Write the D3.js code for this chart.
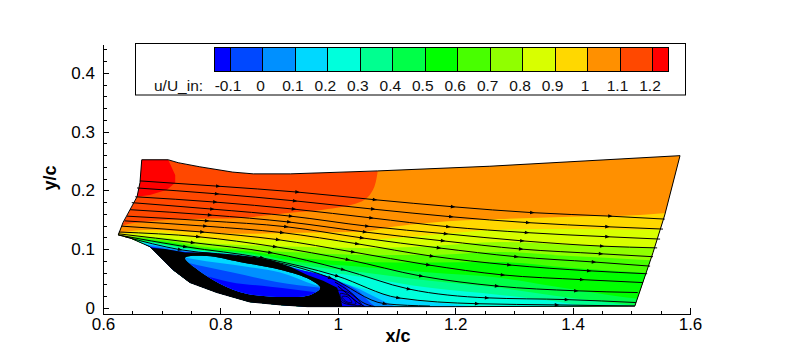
<!DOCTYPE html>
<html lang="en">
<head>
    <meta charset="UTF-8">
    <title>u/U_in contours</title>
    <script src="https://d3js.org/d3.v7.min.js"></script>
    <style>
        body { margin: 0; background: #fff; }
        svg { display: block; font-family: "Liberation Sans", Arial, sans-serif; }
        .axis path, .axis line { stroke: #000; shape-rendering: crispEdges; }
        .axis text { font-size: 17px; fill: #000; font-family: "Liberation Sans", Arial, sans-serif; }
        .title { font-size: 18px; font-weight: bold; }
        .legend-text { font-size: 15.5px; fill: #111; }
    </style>
</head>
<body>
<div id="chart"></div>
<script>
// tick values
const xTicks = [0.6, 0.8, 1, 1.2, 1.4, 1.6];
const xMinorTicks = [0.65, 0.7, 0.75, 0.85, 0.9, 0.95, 1.05, 1.1, 1.15, 1.25, 1.3, 1.35, 1.45, 1.5, 1.55];
const yTicks = [0, 0.1, 0.2, 0.3, 0.4];
const yMinorTicks = [0.02, 0.04, 0.06, 0.08, 0.12, 0.14, 0.16, 0.18, 0.22, 0.24, 0.26, 0.28, 0.32, 0.34, 0.36, 0.38, 0.42, 0.44];

// colour legend
const legendLevels = [-0.1, 0, 0.1, 0.2, 0.3, 0.4, 0.5, 0.6, 0.7, 0.8, 0.9, 1, 1.1, 1.2];
const legendEdges = [-0.15, -0.1, 0, 0.1, 0.2, 0.3, 0.4, 0.5, 0.6, 0.7, 0.8, 0.9, 1, 1.1, 1.2, 1.25];
const legendColors = ["#0000ff", "#0048ff", "#0090ff", "#00d8ff", "#00ffdc", "#00ff90", "#00ff48", "#00ff00",
    "#48ff00", "#90ff00", "#d8ff00", "#ffd800", "#ff9000", "#ff4800", "#ff0000"];

// flow domain outline
const domainOutline = [[0.666, 0.252], [0.711, 0.252], [0.728, 0.247], [0.765, 0.24], [0.821, 0.231], [0.856, 0.228],
    [0.919, 0.228], [1.068, 0.233], [1.259, 0.241], [1.583, 0.259], [1.557, 0.158], [1.537, 0.094], [1.506, 0.003],
    [1.2, 0.002], [0.948, 0.002], [0.902, 0.005], [0.85, 0.01], [0.794, 0.026], [0.748, 0.043], [0.719, 0.065],
    [0.68, 0.104], [0.646, 0.119], [0.626, 0.124], [0.634, 0.145], [0.646, 0.167], [0.658, 0.189], [0.663, 0.213]];

// region above 1.2
const redRegion = [[0.64, 0.27], [0.705, 0.27], [0.711, 0.252], [0.723, 0.226], [0.723, 0.213], [0.709, 0.201],
    [0.68, 0.192], [0.658, 0.189], [0.64, 0.187]];

// contour lines, everything below a line is under that level
const contour110 = [[0.612, 0.129], [0.637, 0.141], [0.668, 0.146], [0.748, 0.151], [0.833, 0.153], [0.919, 0.162],
    [0.975, 0.167], [1.038, 0.18], [1.06, 0.201], [1.068, 0.233], [1.072, 0.269], [1.7, 0.27]];
const contour100 = [[0.612, 0.122], [0.629, 0.128], [0.683, 0.133], [0.757, 0.129], [0.833, 0.126], [0.965, 0.128],
    [1.038, 0.129], [1.094, 0.138], [1.157, 0.145], [1.276, 0.151], [1.396, 0.155], [1.515, 0.158], [1.617, 0.167]];
const contour090 = [[0.612, 0.121], [0.637, 0.126], [0.697, 0.128], [0.765, 0.119], [0.833, 0.116], [0.936, 0.116],
    [1.038, 0.116], [1.157, 0.124], [1.276, 0.133], [1.396, 0.134], [1.515, 0.133], [1.617, 0.135]];
const contour080 = [[0.612, 0.119], [0.637, 0.122], [0.706, 0.119], [0.765, 0.111], [0.833, 0.107], [0.936, 0.104],
    [1.038, 0.102], [1.157, 0.105], [1.276, 0.112], [1.396, 0.107], [1.515, 0.104], [1.617, 0.102]];
const contour070 = [[0.612, 0.117], [0.637, 0.121], [0.714, 0.114], [0.765, 0.105], [0.833, 0.1], [0.936, 0.094],
    [1.038, 0.09], [1.157, 0.09], [1.276, 0.095], [1.396, 0.088], [1.515, 0.082], [1.617, 0.078]];
const contour060 = [[0.612, 0.116], [0.637, 0.119], [0.714, 0.111], [0.765, 0.102], [0.833, 0.097], [0.936, 0.085],
    [1.038, 0.078], [1.157, 0.077], [1.276, 0.078], [1.396, 0.068], [1.515, 0.06], [1.617, 0.054]];
const contour050 = [[0.612, 0.115], [0.637, 0.117], [0.68, 0.114], [0.714, 0.109], [0.765, 0.1], [0.833, 0.095],
    [0.936, 0.078], [1.038, 0.07], [1.157, 0.06], [1.276, 0.051], [1.396, 0.032], [1.515, 0.015], [1.617, 0.009]];
const contour040 = [[0.612, 0.114], [0.637, 0.116], [0.68, 0.112], [0.714, 0.106], [0.765, 0.098], [0.833, 0.093],
    [0.936, 0.073], [1.038, 0.061], [1.157, 0.046], [1.276, 0.034], [1.396, 0.017], [1.515, 0.003], [1.617, -0.003]];
const contour030 = [[0.612, 0.113], [0.637, 0.114], [0.68, 0.111], [0.714, 0.104], [0.782, 0.095], [0.85, 0.089],
    [0.936, 0.068], [1.038, 0.053], [1.157, 0.034], [1.276, 0.022], [1.396, 0.007], [1.447, -0.003]];
const contour020 = [[0.612, 0.112], [0.646, 0.111], [0.68, 0.109], [0.723, 0.101], [0.799, 0.093], [0.867, 0.085],
    [0.936, 0.063], [1.038, 0.034], [1.094, 0.019], [1.208, 0.005], [1.276, -0.002]];
const contour010 = [[0.612, 0.111], [0.655, 0.109], [0.68, 0.107], [0.731, 0.098], [0.816, 0.091], [0.902, 0.071],
    [0.97, 0.056], [1.038, 0.031], [1.072, 0.014], [1.097, 0.003], [1.14, -0.003]];
const contour000 = [[0.612, 0.11], [0.663, 0.108], [0.68, 0.105], [0.74, 0.095], [0.833, 0.088], [0.919, 0.068],
    [0.987, 0.05], [1.038, 0.026], [1.06, 0.005], [1.08, -0.003]];
const contourM010 = [[0.612, 0.109], [0.672, 0.106], [0.68, 0.104], [0.748, 0.094], [0.85, 0.086], [0.936, 0.065],
    [1.004, 0.044], [1.029, 0.02], [1.046, 0.003], [1.063, -0.003]];

// recirculation bubble
const bubbleBlack = [[0.64, 0.115], [0.685, 0.102], [0.706, 0.1], [0.74, 0.094], [0.777, 0.094], [0.816, 0.09],
    [0.85, 0.087], [0.885, 0.082], [0.919, 0.07], [0.948, 0.056], [0.975, 0.046], [0.999, 0.034], [1.005, 0.016],
    [1.01, -0.01], [0.7, -0.01]];
const bubbleCore = [[0.74, 0.085], [0.777, 0.088], [0.833, 0.078], [0.902, 0.065], [0.953, 0.048], [0.97, 0.034],
    [0.953, 0.022], [0.89, 0.019], [0.833, 0.027], [0.787, 0.048], [0.757, 0.068]];
const coreContour1 = [[0.72, 0.09], [0.753, 0.083], [0.845, 0.07], [0.902, 0.06], [0.961, 0.039], [1.0, 0.03]];
const coreContour2 = [[0.72, 0.082], [0.76, 0.073], [0.821, 0.06], [0.896, 0.044], [0.97, 0.034], [1.0, 0.03]];
const coreContour3 = [[0.72, 0.072], [0.77, 0.056], [0.816, 0.044], [0.885, 0.036], [0.966, 0.026], [1.0, 0.02]];

// streamlines
const stream1 = [[0.663, 0.216], [0.796, 0.207], [0.931, 0.197], [1.063, 0.184], [1.196, 0.172], [1.331, 0.162], [1.464, 0.156], [1.557, 0.151]];
const stream2 = [[0.658, 0.204], [0.794, 0.194], [0.927, 0.182], [1.06, 0.168], [1.193, 0.155], [1.324, 0.145], [1.459, 0.138], [1.554, 0.134]];
const stream3 = [[0.655, 0.189], [0.791, 0.18], [0.925, 0.168], [1.057, 0.153], [1.188, 0.138], [1.322, 0.128], [1.459, 0.121], [1.549, 0.117]];
const stream4 = [[0.649, 0.179], [0.786, 0.168], [0.92, 0.156], [1.05, 0.139], [1.184, 0.126], [1.314, 0.114], [1.45, 0.105], [1.544, 0.102]];
const stream5 = [[0.646, 0.167], [0.782, 0.158], [0.917, 0.146], [1.046, 0.129], [1.179, 0.114], [1.312, 0.1], [1.448, 0.092], [1.537, 0.087]];
const stream6 = [[0.641, 0.156], [0.777, 0.148], [0.912, 0.138], [1.041, 0.119], [1.172, 0.102], [1.304, 0.087], [1.436, 0.078], [1.532, 0.071]];
const stream7 = [[0.637, 0.148], [0.774, 0.139], [0.905, 0.128], [1.033, 0.109], [1.16, 0.088], [1.292, 0.073], [1.428, 0.063], [1.527, 0.058]];
const stream8 = [[0.632, 0.139], [0.769, 0.129], [0.898, 0.116], [1.026, 0.095], [1.154, 0.073], [1.281, 0.056], [1.416, 0.048], [1.52, 0.043]];
const stream9 = [[0.627, 0.129], [0.762, 0.121], [0.893, 0.104], [1.017, 0.082], [1.142, 0.054], [1.271, 0.037], [1.406, 0.029], [1.511, 0.026]];
const stream10 = [[0.626, 0.126], [0.753, 0.111], [0.885, 0.094], [1.009, 0.065], [1.121, 0.032], [1.254, 0.017], [1.39, 0.014], [1.508, 0.009]];
const stream11 = [[0.626, 0.124], [0.74, 0.104], [0.871, 0.085], [0.999, 0.054], [1.103, 0.017], [1.237, 0.007], [1.373, 0.005], [1.506, 0.003]];
const stream12 = [[0.637, 0.121], [0.731, 0.099], [0.859, 0.085], [0.987, 0.051], [1.08, 0.007], [1.157, 0.003]];
const wallStream1 = [[0.995, 0.044], [1.021, 0.027], [1.041, 0.01], [1.063, 0.002]];
const wallStream2 = [[1.0, 0.037], [1.021, 0.02], [1.034, 0.009], [1.046, 0.002]];

// small closed loops behind the bubble
const loop1 = [[1.0, 0.029], [1.016, 0.027], [1.031, 0.017], [1.04, 0.005], [1.024, 0.005], [1.007, 0.01]];
const loop2 = [[1.004, 0.024], [1.016, 0.022], [1.026, 0.015], [1.031, 0.007], [1.019, 0.007], [1.007, 0.014]];
const loop3 = [[1.007, 0.019], [1.016, 0.019], [1.023, 0.012], [1.024, 0.009], [1.016, 0.01]];

const svg = d3.select("#chart").append("svg").attr("width", 791).attr("height", 354);

const x = d3.scaleLinear().domain([0.6, 1.6]).range([103, 690]);
const y = d3.scaleLinear().domain([-0.0105, 0.449]).range([314, 44]);
const legendX = d3.scaleLinear().domain([-0.1, 1.2]).range([230, 652]);

const defs = svg.append("defs");
const smooth = d3.line().x(d => x(d[0])).y(d => y(d[1])).curve(d3.curveMonotoneX);
const straight = d3.line().x(d => x(d[0])).y(d => y(d[1]));
const closedSmooth = d3.line().x(d => x(d[0])).y(d => y(d[1])).curve(d3.curveCatmullRomClosed);

defs.append("clipPath").attr("id", "domain-clip").append("path").attr("d", straight(domainOutline) + "Z");
defs.append("clipPath").attr("id", "core-clip").append("path").attr("d", closedSmooth(bubbleCore));

// fills everything under a contour, the clip path cuts it to shape
function bandPath(contour) {
    return smooth(contour) + `L${x(1.7)},${y(-0.1)}L${x(0.5)},${y(-0.1)}Z`;
}

const field = svg.append("g").attr("clip-path", "url(#domain-clip)");
field.append("path").attr("d", straight(domainOutline) + "Z").attr("fill", legendColors[13]);
field.append("path").attr("d", straight(redRegion) + "Z").attr("fill", legendColors[14]);

const contours = [contour110, contour100, contour090, contour080, contour070, contour060, contour050,
    contour040, contour030, contour020, contour010, contour000, contourM010];
field.selectAll("path.band")
    .data(contours)
    .enter()
    .append("path")
    .attr("class", "band")
    .attr("d", bandPath)
    .attr("fill", (d, i) => legendColors[12 - i]);

field.append("path").attr("d", straight(bubbleBlack) + "Z").attr("fill", "#000");

const core = svg.append("g").attr("clip-path", "url(#core-clip)");
core.append("path").attr("d", closedSmooth(bubbleCore)).attr("fill", legendColors[3]);
core.selectAll("path.core-band")
    .data([coreContour1, coreContour2, coreContour3])
    .enter()
    .append("path")
    .attr("class", "core-band")
    .attr("d", bandPath)
    .attr("fill", (d, i) => legendColors[2 - i]);

// streamlines and their arrow heads
const streams = [stream1, stream2, stream3, stream4, stream5, stream6, stream7, stream8, stream9, stream10, stream11, stream12];
const lines = svg.append("g").attr("fill", "none").attr("stroke", "#000");
lines.selectAll("path.stream")
    .data(streams.concat([wallStream1, wallStream2]))
    .enter()
    .append("path")
    .attr("class", "stream")
    .attr("d", smooth)
    .attr("stroke-width", 1);
lines.selectAll("path.loop")
    .data([loop1, loop2, loop3])
    .enter()
    .append("path")
    .attr("class", "loop")
    .attr("d", closedSmooth)
    .attr("stroke-width", 0.8);

const arrows = [];
streams.forEach(s => {
    for (let i = 1; i < s.length - 1; i++) {
        const angle = Math.atan2(y(s[i + 1][1]) - y(s[i - 1][1]), x(s[i + 1][0]) - x(s[i - 1][0])) * 180 / Math.PI;
        arrows.push({px: x(s[i][0]), py: y(s[i][1]), angle: angle});
    }
});
svg.append("g").selectAll("path")
    .data(arrows)
    .enter()
    .append("path")
    .attr("d", "M2.5,0L-2,-1.8L-2,1.8Z")
    .attr("fill", "#000")
    .attr("transform", d => `translate(${d.px},${d.py}) rotate(${d.angle})`);

// domain border on top of the fills
svg.append("path")
    .attr("d", straight(domainOutline) + "Z")
    .attr("fill", "none")
    .attr("stroke", "#000")
    .attr("stroke-width", 1);

// axes
svg.append("g").attr("class", "axis")
    .attr("transform", `translate(0,${y(-0.0105)})`)
    .call(d3.axisBottom(x).tickValues(xMinorTicks).tickSizeInner(-3.5).tickSizeOuter(0).tickFormat(""));
svg.append("g").attr("class", "axis")
    .attr("transform", `translate(0,${y(-0.0105)})`)
    .call(d3.axisBottom(x).tickValues(xTicks).tickSizeInner(-6).tickSizeOuter(0).tickPadding(4).tickFormat(d => d));
svg.append("g").attr("class", "axis")
    .attr("transform", `translate(${x(0.6)},0)`)
    .call(d3.axisLeft(y).tickValues(yMinorTicks).tickSizeInner(-3.5).tickSizeOuter(0).tickFormat(""));
svg.append("g").attr("class", "axis")
    .attr("transform", `translate(${x(0.6)},0)`)
    .call(d3.axisLeft(y).tickValues(yTicks).tickSizeInner(-6).tickSizeOuter(0).tickPadding(8).tickFormat(d => d));

svg.append("text")
    .attr("class", "title")
    .attr("x", 398)
    .attr("y", 342)
    .attr("text-anchor", "middle")
    .text("x/c");
svg.append("text")
    .attr("class", "title")
    .attr("transform", "translate(56,178) rotate(-90)")
    .attr("text-anchor", "middle")
    .text("y/c");

// legend box
svg.append("rect")
    .attr("x", 135.5)
    .attr("y", 43.5)
    .attr("width", 550)
    .attr("height", 51.5)
    .attr("fill", "#fff")
    .attr("stroke", "#000");
svg.append("g").selectAll("rect")
    .data(legendColors)
    .enter()
    .append("rect")
    .attr("x", (d, i) => Math.round(legendX(legendEdges[i])) + 0.5)
    .attr("y", 47.5)
    .attr("width", (d, i) => Math.round(legendX(legendEdges[i + 1])) - Math.round(legendX(legendEdges[i])))
    .attr("height", 24)
    .attr("fill", d => d)
    .attr("stroke", "#000")
    .attr("stroke-width", 1);
svg.append("g").selectAll("text")
    .data(legendLevels)
    .enter()
    .append("text")
    .attr("class", "legend-text")
    .attr("x", d => legendX(d) - 2)
    .attr("y", 91)
    .attr("text-anchor", "middle")
    .text(d => d);
svg.append("text")
    .attr("class", "legend-text")
    .attr("x", 154)
    .attr("y", 91)
    .text("u/U_in:");
</script>
</body>
</html>
